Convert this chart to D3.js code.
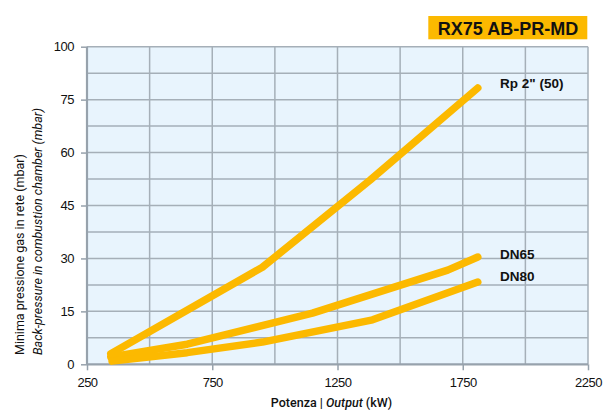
<!DOCTYPE html>
<html><head><meta charset="utf-8">
<script src="https://cdn.jsdelivr.net/npm/d3@7"></script>
<style>
html,body{margin:0;padding:0;background:#fff;}
svg{display:block;font-family:"Liberation Sans",Arial,Helvetica,sans-serif;}
</style></head>
<body><svg id="c" width="603" height="410"></svg>
<script>
// ---- data ----
const title = "RX75 AB-PR-MD";
const xTicks = [250, 750, 1250, 1750, 2250];
const xGrid = [500, 1000, 1500, 2000];
const yTicks = [0, 15, 30, 45, 60, 75, 100];
const yGrid = [7.5, 22.5, 37.5, 52.5, 67.5, 87.5];
const seriesNames = ['Rp 2" (50)', "DN65", "DN80"];
const powerRp = [345, 950, 1380, 1810];
const pressureRp = [3.0, 27.5, 52.2, 80.5];
const powerDN65 = [345, 650, 1150, 1690, 1810];
const pressureDN65 = [2.1, 5.7, 14.5, 26.7, 30.4];
const powerDN80 = [350, 650, 950, 1390, 1810];
const pressureDN80 = [0.9, 3.3, 6.3, 12.6, 23.3];

const svg = d3.select("#c");
const L = 87, R = 588, T = 46.7, B = 364.3;
const x = d3.scaleLinear().domain([250, 2250]).range([L, R]);
const step = (B - T) / 6;
const y = d3.scaleLinear().domain([0, 75, 100]).range([B, B - 5 * step, T]);

const orange = "#fcb900";
const gridC = "#a5afb8";

// background
svg.append("rect").attr("x", L).attr("y", T).attr("width", R - L).attr("height", B - T).attr("fill", "#e8f4fd");

// gridlines
const g = svg.append("g").attr("stroke", gridC).attr("stroke-width", 1.5);
g.selectAll("line.v").data(xGrid.concat(xTicks.slice(1, 4))).enter().append("line")
  .attr("x1", d => x(d)).attr("x2", d => x(d)).attr("y1", T).attr("y2", B);
g.selectAll("line.h").data(yGrid.concat(yTicks.slice(1, 6))).enter().append("line")
  .attr("x1", L).attr("x2", R).attr("y1", d => y(d)).attr("y2", d => y(d));
// top & right border
g.append("line").attr("x1", L).attr("x2", R).attr("y1", T).attr("y2", T);
g.append("line").attr("x1", R).attr("x2", R).attr("y1", T).attr("y2", B);

// axes
const xAxis = d3.axisBottom(x).tickValues(xTicks).tickSize(6).tickPadding(5).tickFormat(d3.format("d"));
const yAxis = d3.axisLeft(y).tickValues(yTicks).tickSize(6).tickPadding(7).tickFormat(d3.format("d"));
const gx = svg.append("g").attr("transform", `translate(0,${B})`).call(xAxis);
const gy = svg.append("g").attr("transform", `translate(${L},0)`).call(yAxis);
[gx, gy].forEach(a => {
  a.select(".domain").attr("stroke", "#97a2ac").attr("stroke-width", 2.2);
  a.selectAll(".tick line").attr("stroke", "#97a2ac").attr("stroke-width", 1.5);
  a.selectAll(".tick text").attr("fill", "#111").attr("font-size", 13).attr("letter-spacing", -0.5)
    .attr("font-family", '"Liberation Sans",Arial,sans-serif');
});
gx.select(".domain").attr("d", `M${L},0H${R}`);
gy.select(".domain").attr("d", `M0,${B}V${T}`);
gx.selectAll(".tick text").attr("dy", "0.9em");

// curves
const line = d3.line().x(d => x(d[0])).y(d => y(d[1]));
const series = [
  d3.zip(powerRp, pressureRp),
  d3.zip(powerDN65, pressureDN65),
  d3.zip(powerDN80, pressureDN80)
];
svg.append("g").selectAll("path").data(series).enter().append("path")
  .attr("d", line).attr("fill", "none").attr("stroke", orange).attr("stroke-width", 7.5)
  .attr("stroke-linecap", "round").attr("stroke-linejoin", "round");

// series labels
const labelY = [88.3, 259, 280.7];
svg.append("g").selectAll("text").data(seriesNames).enter().append("text")
  .attr("x", 500).attr("y", (d, i) => labelY[i]).text(d => d)
  .attr("font-size", 13.5).attr("font-weight", "bold").attr("fill", "#111");

// title box
svg.append("rect").attr("x", 428.3).attr("y", 16).attr("width", 159).attr("height", 23.3).attr("fill", orange);
svg.append("text").attr("x", 508).attr("y", 34.8).attr("text-anchor", "middle")
  .attr("font-size", 18).attr("font-weight", "bold").attr("fill", "#111").text(title);

// axis titles
const xt = svg.append("text").attr("x", 331.5).attr("y", 407).attr("text-anchor", "middle")
  .attr("font-size", 12.5).attr("font-family", "Roboto, sans-serif").attr("font-weight", 500).attr("fill", "#111");
xt.append("tspan").text("Potenza | ");
xt.append("tspan").attr("font-style", "italic").text("Output");
xt.append("tspan").text(" (kW)");

svg.append("text").attr("transform", "translate(24,355) rotate(-90)")
  .attr("font-size", 12.5).attr("font-family", "Roboto, sans-serif").attr("fill", "#111")
  .text("Minima pressione gas in rete (mbar)");
svg.append("text").attr("transform", "translate(42,355) rotate(-90)")
  .attr("font-size", 12.5).attr("font-family", "Roboto, sans-serif").attr("fill", "#111")
  .attr("font-style", "italic").text("Back-pressure in combustion chamber (mbar)");
</script></body></html>
